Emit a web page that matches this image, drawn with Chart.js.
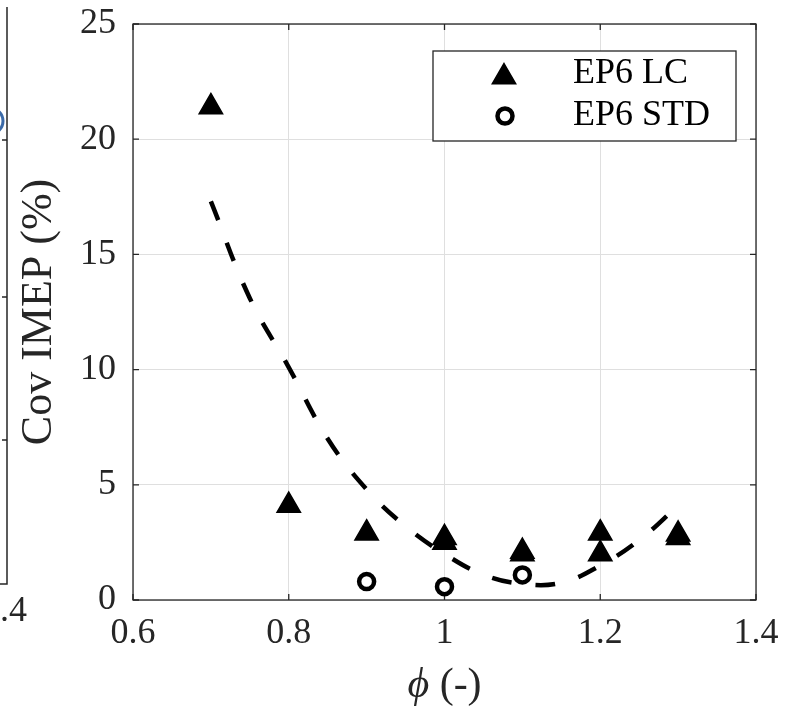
<!DOCTYPE html>
<html>
<head>
<meta charset="utf-8">
<script src="https://cdn.jsdelivr.net/npm/chart.js@4.4.1/dist/chart.umd.min.js"></script>
<style>
  body { margin: 0; background: #fff; }
  #wrap { width: 788px; height: 709px; }
</style>
</head>
<body>
<div id="wrap"><canvas id="cov-chart" width="788" height="709"></canvas></div>
<script>
const phiLC = [0.7, 0.8, 0.9, 1.0, 1.0, 1.1, 1.1, 1.2, 1.2, 1.3, 1.3];
const covLC = [21.4, 4.1, 2.9, 2.7, 2.5, 2.1, 2.0, 2.9, 2.0, 2.85, 2.7];
const phiSTD = [0.9, 1.0, 1.1];
const covSTD = [0.8, 0.58, 1.09];

// Dashed trend line
const phiFit = [0.70, 0.75, 0.80, 0.85, 0.90, 0.95, 1.00, 1.05, 1.10, 1.15, 1.20, 1.25, 1.30];
const covFit = [17.3, 13.1, 10.1, 7.0, 4.8, 3.2, 2.0, 1.1, 0.7, 0.75, 1.5, 2.6, 4.1];

// Axes
const xTicks = [0.6, 0.8, 1.0, 1.2, 1.4];
const xTickLabels = ['0.6', '0.8', '1', '1.2', '1.4'];
const yTicks = [0, 5, 10, 15, 20, 25];
const seriesNames = ['EP6 LC', 'EP6 STD'];
const yTitle = 'Cov IMEP (%)';

const FONT = '"Liberation Serif", "Times New Roman", serif';
const AXIS_COLOR = '#262626';
const GRID_COLOR = '#dfdfdf';
const TRI_R = 13.5;
const CIRC_R = 7.5;

const toPoints = (xs, ys) => xs.map((x, i) => ({ x: x, y: ys[i] }));

// box round the axes + inward ticks, matlab style
const boxAxes = {
    id: 'boxAxes',
    beforeDatasetsDraw(chart) {
        const { ctx, chartArea: a, scales } = chart;
        const tl = 6;
        ctx.save();
        ctx.strokeStyle = AXIS_COLOR;
        ctx.lineWidth = 1.3;
        ctx.strokeRect(a.left, a.top, a.right - a.left, a.bottom - a.top);
        ctx.beginPath();
        xTicks.forEach(v => {
            const x = scales.x.getPixelForValue(v);
            ctx.moveTo(x, a.bottom); ctx.lineTo(x, a.bottom - tl);
            ctx.moveTo(x, a.top); ctx.lineTo(x, a.top + tl);
        });
        yTicks.forEach(v => {
            const y = scales.y.getPixelForValue(v);
            ctx.moveTo(a.left, y); ctx.lineTo(a.left + tl, y);
            ctx.moveTo(a.right, y); ctx.lineTo(a.right - tl, y);
        });
        ctx.stroke();
        ctx.restore();
    }
};

function drawTriangle(ctx, x, y, r) {
    ctx.beginPath();
    let rad = 0;
    ctx.moveTo(x + Math.sin(rad) * r, y - Math.cos(rad) * r);
    rad += Math.PI * 2 / 3;
    ctx.lineTo(x + Math.sin(rad) * r, y - Math.cos(rad) * r);
    rad += Math.PI * 2 / 3;
    ctx.lineTo(x + Math.sin(rad) * r, y - Math.cos(rad) * r);
    ctx.closePath();
    ctx.fillStyle = '#000';
    ctx.fill();
    ctx.lineWidth = 1.5;
    ctx.strokeStyle = '#000';
    ctx.stroke();
}

function drawCircle(ctx, x, y, r) {
    ctx.beginPath();
    ctx.arc(x, y, r, 0, Math.PI * 2);
    ctx.fillStyle = '#fff';
    ctx.fill();
    ctx.lineWidth = 4.5;
    ctx.strokeStyle = '#000';
    ctx.stroke();
}

// legend in a framed box, top right
const boxLegend = {
    id: 'boxLegend',
    afterDatasetsDraw(chart) {
        const { ctx, chartArea: a } = chart;
        const right = a.right - 20;
        const left = right - 303;
        const top = a.top + 27;
        const h = 90;
        ctx.save();
        ctx.fillStyle = '#fff';
        ctx.fillRect(left, top, right - left, h);
        ctx.strokeStyle = AXIS_COLOR;
        ctx.lineWidth = 1.3;
        ctx.strokeRect(left, top, right - left, h);

        const rows = [top + 23, top + 65];
        drawTriangle(ctx, left + 71, rows[0] + 3, TRI_R);
        drawCircle(ctx, left + 72, rows[1], CIRC_R);

        ctx.fillStyle = '#000';
        ctx.font = '36px ' + FONT;
        ctx.textAlign = 'left';
        ctx.textBaseline = 'middle';
        seriesNames.forEach((name, i) => ctx.fillText(name, left + 140, rows[i]));
        ctx.restore();
    }
};

// x title: italic phi + upright (-)
const xTitle = {
    id: 'xTitle',
    afterDraw(chart) {
        const { ctx, chartArea: a } = chart;
        const cx = (a.left + a.right) / 2;
        const y = 686;
        ctx.save();
        ctx.fillStyle = AXIS_COLOR;
        ctx.textBaseline = 'middle';
        ctx.font = 'italic 42px ' + FONT;
        const phi = '\u03D5';
        const w1 = ctx.measureText(phi).width;
        ctx.font = '42px ' + FONT;
        const rest = ' (-)';
        const w2 = ctx.measureText(rest).width;
        let x = cx - (w1 + w2) / 2;
        ctx.font = 'italic 42px ' + FONT;
        ctx.textAlign = 'left';
        ctx.fillText(phi, x, y);
        ctx.font = '42px ' + FONT;
        ctx.fillText(rest, x + w1, y);
        ctx.restore();
    }
};

// sliver of the neighbouring subplot, cut off at the left edge
const neighbour = {
    id: 'neighbour',
    afterDraw(chart) {
        const ctx = chart.ctx;
        ctx.save();
        ctx.strokeStyle = AXIS_COLOR;
        ctx.lineWidth = 1.5;
        ctx.beginPath();
        ctx.moveTo(7, 7); ctx.lineTo(7, 584); ctx.lineTo(0, 584);
        [140, 297, 440].forEach(y => { ctx.moveTo(7, y); ctx.lineTo(2, y); });
        ctx.stroke();
        ctx.strokeStyle = '#3b6aa8';
        ctx.lineWidth = 3;
        ctx.beginPath();
        ctx.arc(-10, 121, 13, 0, Math.PI * 2);
        ctx.stroke();
        ctx.fillStyle = AXIS_COLOR;
        ctx.font = '36px ' + FONT;
        ctx.textAlign = 'left';
        ctx.textBaseline = 'middle';
        ctx.fillText('.4', 0, 612);
        ctx.restore();
    }
};

const ctx = document.getElementById('cov-chart').getContext('2d');
new Chart(ctx, {
    type: 'scatter',
    data: {
        datasets: [
            {
                label: 'fit',
                data: toPoints(phiFit, covFit),
                showLine: true,
                borderColor: '#000',
                borderWidth: 4.5,
                borderDash: [20, 24],
                pointRadius: 0,
                tension: 0.4,
                fill: false,
                order: 0
            },
            {
                label: seriesNames[0],
                data: toPoints(phiLC, covLC),
                pointStyle: 'triangle',
                pointRadius: TRI_R,
                pointBackgroundColor: '#000',
                pointBorderColor: '#000',
                pointBorderWidth: 1.5,
                order: 1
            },
            {
                label: seriesNames[1],
                data: toPoints(phiSTD, covSTD),
                pointStyle: 'circle',
                pointRadius: CIRC_R,
                pointBackgroundColor: '#fff',
                pointBorderColor: '#000',
                pointBorderWidth: 4.5,
                order: 2
            }
        ]
    },
    options: {
        responsive: false,
        animation: false,
        devicePixelRatio: 1,
        layout: { padding: { top: 24, right: 32, bottom: 0, left: 0 } },
        plugins: {
            legend: { display: false },
            tooltip: { enabled: false }
        },
        scales: {
            x: {
                type: 'linear',
                min: 0.6,
                max: 1.4,
                afterBuildTicks: s => { s.ticks = xTicks.map(v => ({ value: v })); },
                afterFit: s => { s.height = 109; s.paddingLeft = 0; s.paddingRight = 0; },
                ticks: {
                    autoSkip: false,
                    maxRotation: 0,
                    padding: 12,
                    color: AXIS_COLOR,
                    font: { family: FONT, size: 36 },
                    callback: (v, i) => xTickLabels[i]
                },
                grid: { color: GRID_COLOR, lineWidth: 1, drawTicks: false },
                border: { display: false }
            },
            y: {
                type: 'linear',
                min: 0,
                max: 25,
                afterBuildTicks: s => { s.ticks = yTicks.map(v => ({ value: v })); },
                afterFit: s => { s.width = 133; s.paddingTop = 0; s.paddingBottom = 0; },
                ticks: {
                    padding: 17,
                    color: AXIS_COLOR,
                    font: { family: FONT, size: 36 },
                    callback: v => String(v)
                },
                grid: { color: GRID_COLOR, lineWidth: 1, drawTicks: false },
                border: { display: false },
                title: {
                    display: true,
                    text: yTitle,
                    color: AXIS_COLOR,
                    font: { family: FONT, size: 44 },
                    padding: { top: 13, bottom: 0 }
                }
            }
        }
    },
    plugins: [boxAxes, boxLegend, xTitle, neighbour]
});
</script>
</body>
</html>
